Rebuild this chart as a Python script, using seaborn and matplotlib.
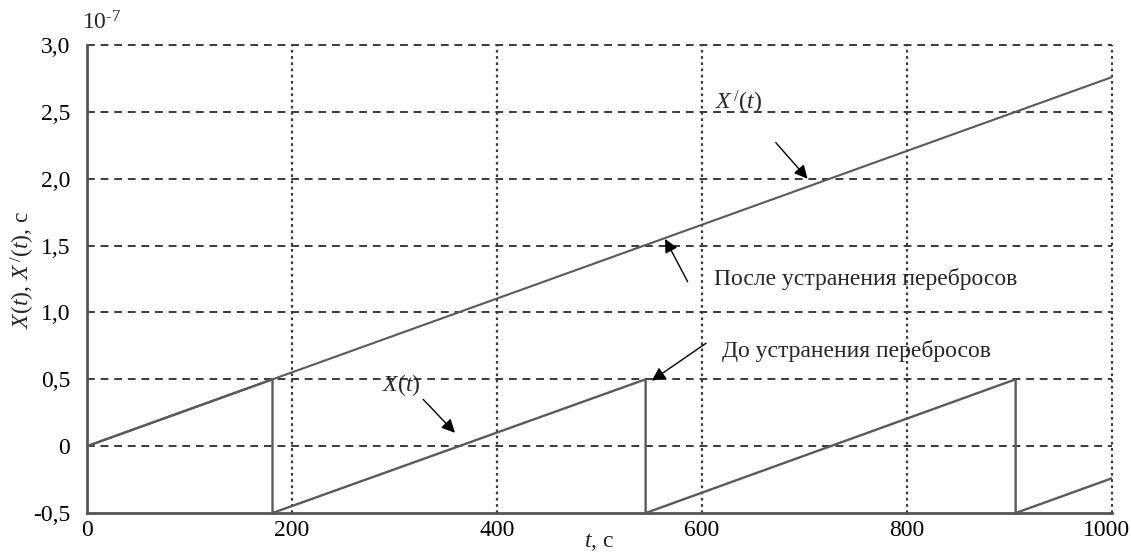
import matplotlib
matplotlib.use("Agg")
import matplotlib.pyplot as plt
from matplotlib.transforms import ScaledTranslation
import seaborn as sns
import pandas as pd

# Time-offset series (units of 1e-7 s)
t_after = [0, 1000]
x_after = [0.0, 2.76]

t_before = [0, 181, 181, 545, 545, 906, 906, 1000]
x_before = [0.0, 0.5, -0.5, 0.5, -0.5, 0.5, -0.5, -0.24]

x_ticks = [0, 200, 400, 600, 800, 1000]
y_ticks = [-0.5, 0, 0.5, 1.0, 1.5, 2.0, 2.5, 3.0]
y_tick_labels = ["-0,5", "0", "0,5", "1,0", "1,5", "2,0", "2,5", "3,0"]

sns.set_theme(style="white")
plt.rcParams["font.family"] = ["Liberation Serif", "DejaVu Serif"]
plt.rcParams["mathtext.fontset"] = "custom"
plt.rcParams["mathtext.it"] = "Liberation Serif:italic"
plt.rcParams["mathtext.rm"] = "Liberation Serif"

FS = 17

fig = plt.figure(figsize=(11.31, 5.53), dpi=100)
ax = fig.add_axes([0.0769, 0.0723, 0.9063, 0.8463])

line_color = "#5a5a5a"
df_after = pd.DataFrame({"t": t_after, "x": x_after})
df_before = pd.DataFrame({"t": t_before, "x": x_before})
sns.lineplot(data=df_after, x="t", y="x", ax=ax, color=line_color,
             linewidth=1.5, sort=False, estimator=None, zorder=3)
sns.lineplot(data=df_before, x="t", y="x", ax=ax, color=line_color,
             linewidth=1.7, sort=False, estimator=None, zorder=3)

ax.set_xlim(0, 1000)
ax.set_ylim(-0.5, 3.0)
ax.set_xticks(x_ticks)
ax.set_xticklabels([str(v) for v in x_ticks])
ax.set_yticks(y_ticks)
ax.set_yticklabels(y_tick_labels)

grid_color = "#3a3a3a"
for y in y_ticks[1:]:
    ax.axhline(y, color=grid_color, linewidth=1.4, linestyle=(0, (4, 3)),
               zorder=1, clip_on=False)
for x in x_ticks[1:]:
    ax.axvline(x, color=grid_color, linewidth=1.6, linestyle=(0, (1.2, 1.6)),
               zorder=1, clip_on=False)

for side in ("top", "right"):
    ax.spines[side].set_visible(False)
for side in ("left", "bottom"):
    ax.spines[side].set_color("#555555")
    ax.spines[side].set_linewidth(2.0)

ax.tick_params(axis="both", direction="in", labelsize=FS, colors="#555555",
               labelcolor="black", width=1.5)
ax.tick_params(axis="x", length=8, pad=5)
ax.tick_params(axis="y", length=4, pad=12)

# keep the last x tick label inside the figure
last = ax.get_xticklabels()[-1]
last.set_transform(last.get_transform()
                   + ScaledTranslation(-6 / 100, 0, fig.dpi_scale_trans))

ax.set_xlabel(r"$\mathit{t}$, с", fontsize=FS)
ax.xaxis.set_label_coords(0.5, -0.039)
ax.set_ylabel(r"$\mathit{X(t)}$, $\mathit{X^{\,/}(t)}$, с", fontsize=FS)
ax.yaxis.set_label_coords(-0.049, 0.52)

fig.text(0.0725, 0.937, r"10$^{\text{-7}}$", fontsize=FS, ha="left",
         va="bottom")

arrow = dict(arrowstyle="-|>", color="black", lw=1.0, mutation_scale=20,
             shrinkA=0, shrinkB=0)
ax.text(636, 2.57, r"$\mathit{X^{\,/}(t)}$", fontsize=FS, ha="center",
        va="center")
ax.annotate("", xy=(703, 2.0), xytext=(672, 2.27), arrowprops=arrow)

ax.text(612, 1.25, "После устранения перебросов", fontsize=FS,
        ha="left", va="center")
ax.annotate("", xy=(564, 1.55), xytext=(586, 1.23), arrowprops=arrow)

ax.text(620, 0.71, "До устранения перебросов", fontsize=FS,
        ha="left", va="center")
ax.annotate("", xy=(551, 0.49), xytext=(604, 0.77), arrowprops=arrow)

ax.text(307, 0.46, r"$\mathit{X(t)}$", fontsize=FS, ha="center",
        va="center")
ax.annotate("", xy=(359, 0.10), xytext=(328, 0.35), arrowprops=arrow)

fig.savefig("out.png", dpi=100)
